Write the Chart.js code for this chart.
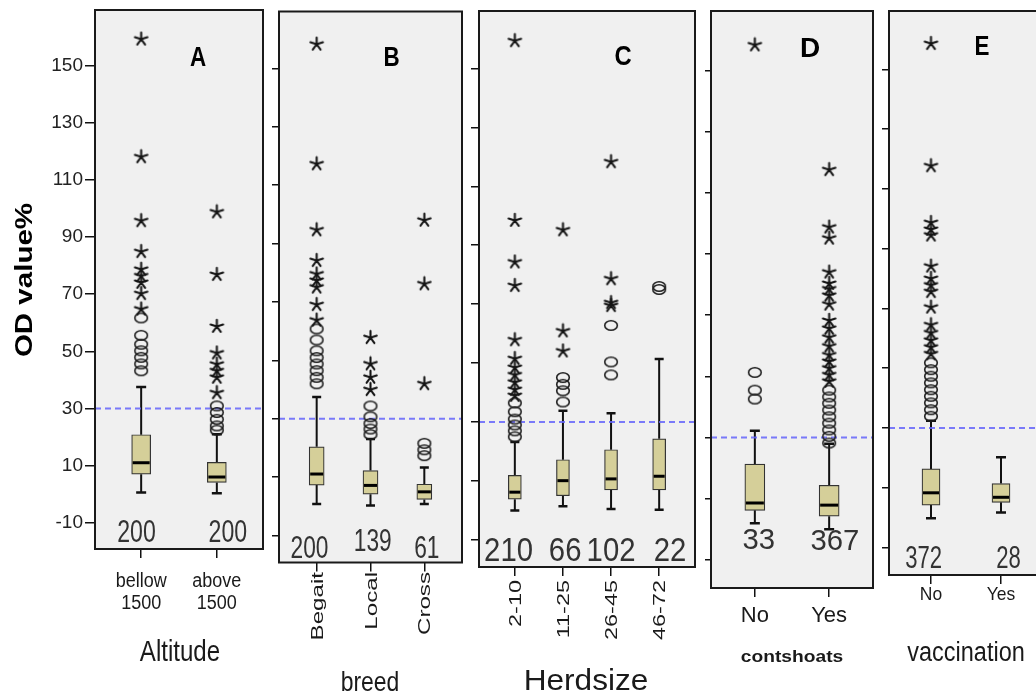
<!DOCTYPE html>
<html><head><meta charset="utf-8">
<script src="https://cdn.jsdelivr.net/npm/chart.js@4.4.1/dist/chart.umd.min.js"></script>
<style>
html,body{margin:0;padding:0;background:#fff;overflow:hidden}
#wrap{position:relative;width:1036px;height:696px;overflow:hidden;background:#fff}
#wrap canvas{position:absolute;top:0}
</style></head><body><div id="wrap"></div>
<script>
// ---------- DATA ----------
const yTickValues = [-10, 10, 30, 50, 70, 90, 110, 130, 150];
const cutoffValue = 30;
const yMin = -19.2, yMax = 169.5;

// A: Altitude
const altitudeCats = [['bellow', '1500'], ['above', '1500']];
const altitudeN = [200, 200];
const altitudeLow = [0.6, 0.3];
const altitudeQ1 = [7.0, 4.1];
const altitudeMed = [11.0, 6.0];
const altitudeQ3 = [20.8, 11.1];
const altitudeHigh = [37.5, 21.0];
const altitudeStars = [[159.3, 118.1, 95.7, 84.9, 78.7, 76.4, 74.1, 70.2, 64.8], [98.8, 76.9, 58.7, 49.4, 45.5, 43.2, 40.9, 35.5]];
const altitudeCircles = [[61.7, 55.6, 52.5, 50.2, 47.9, 45.6, 43.2], [30.9, 28.6, 26.2, 23.9, 22.4]];

// B: breed
const breedCats = ['Begait', 'Local', 'Cross'];
const breedN = [200, 139, 61];
const breedLow = [0.8, 0.3, 0.8];
const breedQ1 = [7.3, 4.2, 2.4];
const breedMed = [11.1, 7.2, 5.0];
const breedQ3 = [20.4, 12.3, 7.6];
const breedHigh = [37.5, 23.1, 13.3];
const breedStars = [[158.3, 117.3, 94.7, 84.2, 79.6, 77.4, 75.1, 69.1, 63.8], [57.8, 48.8, 44.2, 40.0], [98.0, 76.2, 42.0]];
const breedCircles = [[60.8, 57.0, 53.3, 51.0, 48.8, 46.5, 44.2, 42.0], [34.4, 30.7, 28.4, 26.5, 24.6], [21.6, 19.4, 17.4]];

// C: Herdsize
const herdCats = ['2-10', '11-25', '26-45', '46-72'];
const herdN = [210, 66, 102, 22];
const herdLow = [0.0, 1.4, 0.5, 0.2];
const herdQ1 = [3.8, 5.0, 7.0, 7.0];
const herdMed = [6.2, 10.1, 10.7, 11.6];
const herdQ3 = [11.9, 17.2, 20.6, 24.3];
const herdHigh = [23.2, 33.8, 33.0, 51.4];
const herdStars = [[159.4, 98.4, 84.3, 76.3, 57.9, 51.5, 48.5, 46.0, 43.5, 41.0, 39.0], [95.2, 60.9, 54.1], [118.3, 78.6, 70.5, 69.5], []];
const herdCircles = [[36.5, 33.5, 31.0, 29.0, 27.0, 25.0], [45.1, 42.8, 40.6, 36.8], [62.8, 50.4, 46.0], [76.0, 75.0]];

// D: contshoats
const shoatsCats = ['No', 'Yes'];
const shoatsN = [33, 367];
const shoatsLow = [2.0, 0.0];
const shoatsQ1 = [6.2, 4.3];
const shoatsMed = [8.6, 7.9];
const shoatsQ3 = [21.3, 14.4];
const shoatsHigh = [32.2, 28.0];
const shoatsStars = [[158.4], [117.6, 98.8, 95.2, 84.1, 80.4, 78.6, 76.5, 73.6, 68.3, 65.7, 62.8, 59.9, 57.0, 54.9, 52.7, 50.5, 48.4]];
const shoatsCircles = [[51.3, 45.5, 42.6], [45.5, 43.3, 41.2, 39.0, 36.8, 34.7, 32.5, 30.4, 28.2]];

// E: vaccination
const vaccCats = ['No', 'Yes'];
const vaccN = [372, 28];
const vaccLow = [-0.2, 1.7];
const vaccQ1 = [4.2, 5.1];
const vaccMed = [8.3, 6.8];
const vaccQ3 = [16.3, 11.4];
const vaccHigh = [32.4, 20.2];
const vaccStars = [[158.6, 117.7, 98.7, 96.4, 94.5, 84.1, 80.0, 77.8, 75.6, 70.4, 64.5, 61.8, 59.3, 57.0, 54.8], []];
const vaccCircles = [[51.8, 49.5, 47.3, 45.1, 42.8, 40.6, 38.4, 36.1, 33.9], []];

// ---------- STYLE / LAYOUT ----------
const FONT = "'Liberation Sans', Arial, Helvetica, sans-serif";
const CANVAS_H = 696;
const panels = [
  { letter: 'A', left: 0, width: 271, frame: { l: 95, r: 264.5, t: 10, b: 549 }, m: 0.61, boxW: 19, capW: 10,
    cats: altitudeCats, n: altitudeN, low: altitudeLow, q1: altitudeQ1, med: altitudeMed, q3: altitudeQ3, high: altitudeHigh,
    stars: altitudeStars, circles: altitudeCircles, yLabels: true, yTickLen: 10,
    letterPos: { x: 198, y: 56, sx: 0.8 },
    count: { size: 31, sx: 0.745, y: [530.5, 530.5], dx: [-4.7, 11] },
    catLabel: { mode: 'h2', size: 20, sx: 0.9, y: [580, 602] },
    title: { text: 'Altitude', x: 180, y: 651, size: 29, sx: 0.83 } },
  { letter: 'B', left: 271, width: 199, frame: { l: 278.5, r: 462.5, t: 11.5, b: 562.5 }, m: 0.7, boxW: 15, capW: 9,
    cats: breedCats, n: breedN, low: breedLow, q1: breedQ1, med: breedMed, q3: breedQ3, high: breedHigh,
    stars: breedStars, circles: breedCircles, yLabels: false, yTickLen: 7,
    letterPos: { x: 391.5, y: 56, sx: 0.8 },
    count: { size: 32, sx: 0.71, y: [546.7, 540, 546.7], dx: [-7.2, 2.3, 2.5] },
    catLabel: { mode: 'v', size: 17, sx: 1.42, yEnd: 572 },
    title: { text: 'breed', x: 370, y: 681, size: 28, sx: 0.82 } },
  { letter: 'C', left: 470, width: 233, frame: { l: 479, r: 696, t: 11, b: 567 }, m: 0.745, boxW: 13, capW: 9,
    cats: herdCats, n: herdN, low: herdLow, q1: herdQ1, med: herdMed, q3: herdQ3, high: herdHigh,
    stars: herdStars, circles: herdCircles, yLabels: false, yTickLen: 8,
    letterPos: { x: 623, y: 55, sx: 0.85 },
    count: { size: 33.5, sx: 0.875, y: [548.7, 548.7, 548.7, 548.7], dx: [-6.3, 2.2, 0, 10.8] },
    catLabel: { mode: 'v', size: 17, sx: 1.38, yEnd: 580 },
    title: { text: 'Herdsize', x: 586, y: 680, size: 29, sx: 1.09 } },
  { letter: 'D', left: 703, width: 178, frame: { l: 710.5, r: 874, t: 11, b: 588 }, m: 0.59, boxW: 20, capW: 10,
    cats: shoatsCats, n: shoatsN, low: shoatsLow, q1: shoatsQ1, med: shoatsMed, q3: shoatsQ3, high: shoatsHigh,
    stars: shoatsStars, circles: shoatsCircles, yLabels: false, yTickLen: 6,
    letterPos: { x: 810, y: 47, sx: 1.0 },
    count: { size: 29.3, sx: 1.0, y: [538.8, 540], dx: [4, 5.7] },
    catLabel: { mode: 'h1', size: 22, sx: 1.0, y: 614 },
    title: { text: 'contshoats', x: 792, y: 656, size: 17, sx: 1.13, bold: true } },
  { letter: 'E', left: 881, width: 170, frame: { l: 889, r: 1045.8, t: 11, b: 575 }, m: 0.6, boxW: 18, capW: 10,
    cats: vaccCats, n: vaccN, low: vaccLow, q1: vaccQ1, med: vaccMed, q3: vaccQ3, high: vaccHigh,
    stars: vaccStars, circles: vaccCircles, yLabels: false, yTickLen: 7,
    letterPos: { x: 982, y: 45, sx: 0.8 },
    count: { size: 30.7, sx: 0.72, y: [557, 557], dx: [-7.4, 7.5] },
    catLabel: { mode: 'h1', size: 19, sx: 0.92, y: 593 },
    title: { text: 'vaccination', x: 966, y: 651, size: 27, sx: 0.87 } }
];

// ---------- MARKERS ----------
function makeStar() {
  const c = document.createElement('canvas'); c.width = 17; c.height = 17;
  const g = c.getContext('2d'); g.strokeStyle = '#151515'; g.lineWidth = 2.1; g.lineCap = 'round';
  g.beginPath();
  for (let k = 0; k < 5; k++) { const a = -Math.PI / 2 + k * 2 * Math.PI / 5; g.moveTo(8.5, 8.5); g.lineTo(8.5 + 6.6 * Math.cos(a), 8.5 + 6.6 * Math.sin(a)); }
  g.stroke(); return c;
}
function makeCircle() {
  const c = document.createElement('canvas'); c.width = 16; c.height = 13;
  const g = c.getContext('2d'); g.strokeStyle = '#1e1e1e'; g.lineWidth = 1.6;
  g.beginPath(); g.ellipse(8, 6.5, 6.3, 4.7, 0, 0, 2 * Math.PI); g.stroke(); return c;
}
const starImg = makeStar(), circleImg = makeCircle();

function txt(ctx, s, x, y, o) {
  const size = o.size;
  ctx.save(); ctx.translate(x, y); if (o.rot) ctx.rotate(o.rot); ctx.scale(o.sx || 1, o.sy || 1);
  ctx.font = (o.bold ? 'bold ' : '') + size + 'px ' + FONT;
  ctx.fillStyle = o.color || '#1a1a1a'; ctx.textAlign = o.align || 'center'; ctx.textBaseline = 'alphabetic';
  ctx.fillText(s, 0, 0.358 * size); ctx.restore();
}

// ---------- CHARTS ----------
const wrap = document.getElementById('wrap');
panels.forEach(P => {
  const cv = document.createElement('canvas');
  cv.width = P.width; cv.height = CANVAS_H;
  cv.style.left = P.left + 'px'; cv.style.width = P.width + 'px'; cv.style.height = CANVAS_H + 'px';
  wrap.appendChild(cv);
  const N = P.cats.length;
  const xmin = 1 - P.m, xmax = N + P.m;
  const toLocal = x => x - P.left;

  const plugin = {
    id: 'boxplot' + P.letter,
    beforeDraw(chart) {
      const a = chart.chartArea, ctx = chart.ctx;
      ctx.save(); ctx.fillStyle = '#f0f0f0'; ctx.fillRect(a.left, a.top, a.right - a.left, a.bottom - a.top); ctx.restore();
    },
    beforeDatasetsDraw(chart) {
      const ctx = chart.ctx, xs = chart.scales.x, ys = chart.scales.y;
      ctx.save(); ctx.strokeStyle = '#111'; ctx.lineCap = 'butt';
      for (let i = 0; i < N; i++) {
        const x = xs.getPixelForValue(i + 1);
        const yl = ys.getPixelForValue(P.low[i]), y1 = ys.getPixelForValue(P.q1[i]);
        const y3 = ys.getPixelForValue(P.q3[i]), yh = ys.getPixelForValue(P.high[i]);
        ctx.lineWidth = 2;
        ctx.beginPath(); ctx.moveTo(x, y3); ctx.lineTo(x, yh); ctx.moveTo(x, y1); ctx.lineTo(x, yl); ctx.stroke();
        ctx.lineWidth = 2.5;
        ctx.beginPath(); ctx.moveTo(x - P.capW / 2, yh); ctx.lineTo(x + P.capW / 2, yh);
        ctx.moveTo(x - P.capW / 2, yl); ctx.lineTo(x + P.capW / 2, yl); ctx.stroke();
      }
      ctx.restore();
    },
    afterDatasetsDraw(chart) {
      const ctx = chart.ctx, xs = chart.scales.x, ys = chart.scales.y;
      ctx.save(); ctx.strokeStyle = '#000'; ctx.lineWidth = 3;
      for (let i = 0; i < N; i++) {
        const x = xs.getPixelForValue(i + 1), ym = ys.getPixelForValue(P.med[i]);
        ctx.beginPath(); ctx.moveTo(x - P.boxW / 2 + 1, ym); ctx.lineTo(x + P.boxW / 2 - 1, ym); ctx.stroke();
      }
      ctx.restore();
    },
    afterDraw(chart) {
      const ctx = chart.ctx, a = chart.chartArea, xs = chart.scales.x;
      ctx.save(); ctx.strokeStyle = '#1a1a1a'; ctx.lineWidth = 2;
      ctx.strokeRect(a.left, a.top, a.right - a.left, a.bottom - a.top); ctx.restore();
      // panel letter
      txt(ctx, P.letter, toLocal(P.letterPos.x), P.letterPos.y, { size: 28, bold: true, sx: P.letterPos.sx, color: '#000' });
      // counts and category labels
      for (let i = 0; i < N; i++) {
        const x = xs.getPixelForValue(i + 1);
        txt(ctx, String(P.n[i]), x + P.count.dx[i], P.count.y[i], { size: P.count.size, sx: P.count.sx, color: '#333' });
        const cl = P.catLabel, lab = P.cats[i];
        if (cl.mode === 'h2') {
          txt(ctx, lab[0], x, cl.y[0], { size: cl.size, sx: cl.sx });
          txt(ctx, lab[1], x, cl.y[1], { size: cl.size, sx: cl.sx });
        } else if (cl.mode === 'h1') {
          txt(ctx, lab, x, cl.y, { size: cl.size, sx: cl.sx });
        } else {
          txt(ctx, lab, x, cl.yEnd, { size: cl.size, sx: cl.sx, rot: -Math.PI / 2, align: 'right' });
        }
      }
      const t = P.title;
      txt(ctx, t.text, toLocal(t.x), t.y, { size: t.size, sx: t.sx, bold: t.bold });
      if (P.yLabels) {
        txt(ctx, 'OD value%', 23.5, 280, { size: 24, bold: true, sx: 1.23, rot: -Math.PI / 2, color: '#000' });
      }
    }
  };

  new Chart(cv, {
    type: 'bar',
    data: {
      datasets: [
        { type: 'scatter', order: 1, data: P.stars.flatMap((arr, i) => arr.map(v => ({ x: i + 1, y: v }))),
          pointStyle: starImg, pointRadius: 7, pointHoverRadius: 7 },
        { type: 'scatter', order: 2, data: P.circles.flatMap((arr, i) => arr.map(v => ({ x: i + 1, y: v }))),
          pointStyle: circleImg, pointRadius: 7, pointHoverRadius: 7 },
        { type: 'bar', order: 3, data: P.cats.map((c, i) => ({ x: i + 1, y: [P.q1[i], P.q3[i]] })),
          backgroundColor: '#d5cf99', borderColor: '#333', borderWidth: 1.2, borderSkipped: false, barThickness: P.boxW },
        { type: 'line', order: 4, data: [{ x: xmin, y: cutoffValue }, { x: xmax, y: cutoffValue }],
          borderColor: 'rgba(100,100,250,0.85)', borderWidth: 2, borderDash: [6, 4], pointRadius: 0, fill: false }
      ]
    },
    options: {
      responsive: false, animation: false, devicePixelRatio: 1,
      layout: { padding: { top: P.frame.t, right: P.left + P.width - P.frame.r, left: 0, bottom: 0 } },
      plugins: { legend: { display: false }, tooltip: { enabled: false } },
      events: [],
      scales: {
        x: {
          type: 'linear', min: xmin, max: xmax, offset: false,
          afterBuildTicks: s => { s.ticks = P.cats.map((c, i) => ({ value: i + 1 })); },
          ticks: { callback: () => '', autoSkip: false, maxRotation: 0, padding: 0 },
          grid: { offset: false, drawOnChartArea: false, drawTicks: true, tickLength: 9, color: '#111', lineWidth: 1.5 },
          border: { display: false },
          afterFit: s => { s.height = CANVAS_H - P.frame.b; s.paddingLeft = 0; s.paddingRight = 0; }
        },
        y: {
          type: 'linear', min: yMin, max: yMax,
          afterBuildTicks: s => { s.ticks = yTickValues.map(v => ({ value: v })); },
          ticks: { callback: v => (P.yLabels ? String(v) : ''), font: { size: 19, family: FONT }, color: '#222', padding: 2, autoSkip: false },
          grid: { offset: false, drawOnChartArea: false, drawTicks: true, tickLength: P.yTickLen, color: '#111', lineWidth: 1.5 },
          border: { display: false },
          afterFit: s => { s.width = P.frame.l - P.left; s.paddingTop = 0; s.paddingBottom = 0; }
        }
      }
    },
    plugins: [plugin]
  });
});
</script>
</body></html>
